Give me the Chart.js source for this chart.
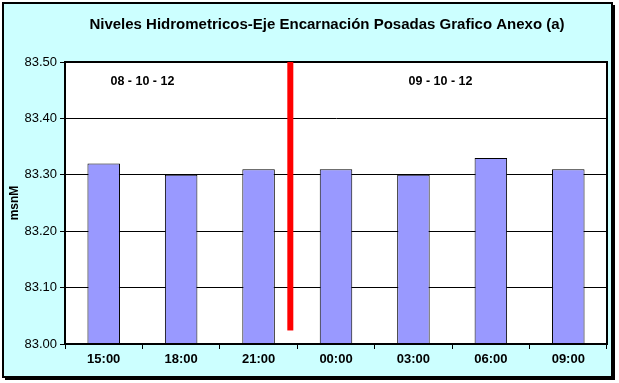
<!DOCTYPE html>
<html>
<head>
<meta charset="utf-8">
<script src="https://cdn.jsdelivr.net/npm/chart.js@4.4.1/dist/chart.umd.min.js"></script>
<style>
html,body{margin:0;padding:0;background:#fff;}
#wrap{width:619px;height:383px;position:relative;}
</style>
</head>
<body>
<div id="wrap"><canvas id="c" width="619" height="383"></canvas></div>
<script>
const titleText = "Niveles Hidrometricos-Eje Encarnación Posadas Grafico Anexo (a)";
const categories = ["15:00", "18:00", "21:00", "00:00", "03:00", "06:00", "09:00"];
const levels = [83.32, 83.30, 83.31, 83.31, 83.30, 83.33, 83.31];
const yTicks = [83.0, 83.1, 83.2, 83.3, 83.4, 83.5];
const dateLabels = ["08 - 10 - 12", "09 - 10 - 12"];
const dateLabelX = [0.5, 4.35];
const dateLabelY = [83.465, 83.465];
const dividerX = 2.41;
const dividerBottom = 83.024;

const FONT = '"Liberation Sans", Arial, sans-serif';

const framePlugin = {
  id: 'frame',
  beforeDraw(chart) {
    const ctx = chart.ctx;
    ctx.save();
    ctx.fillStyle = '#ffffff';
    ctx.fillRect(0, 0, chart.width, chart.height);
    ctx.fillStyle = '#000000';
    ctx.fillRect(5, 5, 610, 375);
    ctx.fillStyle = '#CCFFFF';
    ctx.fillRect(3, 3, 609, 374);
    ctx.lineWidth = 2;
    ctx.strokeStyle = '#000000';
    ctx.strokeRect(3, 3, 609, 374);
    const a = chart.chartArea;
    ctx.fillStyle = '#ffffff';
    ctx.fillRect(a.left, a.top, a.right - a.left, a.bottom - a.top);
    ctx.fillStyle = '#000000';
    ctx.font = 'bold 15px ' + FONT;
    ctx.textAlign = 'center';
    ctx.textBaseline = 'middle';
    ctx.fillText(titleText, 327, 25);
    ctx.restore();
  },
  afterDatasetsDraw(chart) {
    const ctx = chart.ctx;
    const xs = chart.scales.x, ys = chart.scales.y;
    const a = chart.chartArea;
    ctx.save();
    ctx.strokeStyle = '#000';
    ctx.lineWidth = 2;
    ctx.strokeRect(a.left, a.top, a.right - a.left, a.bottom - a.top);
    const x0 = xs.getPixelForValue(0), x1 = xs.getPixelForValue(1);
    const xp = x0 + (x1 - x0) * dividerX;
    ctx.fillStyle = '#FF0000';
    const yb = ys.getPixelForValue(dividerBottom);
    ctx.fillRect(xp - 3, a.top, 6, yb - a.top);
    ctx.fillStyle = '#000';
    ctx.font = 'bold 12.5px ' + FONT;
    ctx.textAlign = 'center';
    ctx.textBaseline = 'middle';
    dateLabels.forEach((t, i) => {
      const px = x0 + (x1 - x0) * dateLabelX[i];
      ctx.fillText(t, px, ys.getPixelForValue(dateLabelY[i]));
    });
    ctx.restore();
  }
};

new Chart(document.getElementById('c'), {
  type: 'bar',
  data: {
    labels: categories,
    datasets: [{
      data: levels,
      backgroundColor: '#9999FF',
      borderColor: '#000000',
      borderWidth: 1,
      categoryPercentage: 1,
      barPercentage: 0.42
    }]
  },
  options: {
    responsive: false,
    animation: false,
    layout: { padding: { top: 62, right: 12, bottom: 0, left: 0 } },
    plugins: { legend: { display: false }, title: { display: false }, tooltip: { enabled: false } },
    scales: {
      x: {
        afterFit(s) { s.height = 39; },
        grid: { offset: true, drawOnChartArea: false, drawTicks: true, tickLength: 5, color: '#000' },
        border: { display: true, color: '#000', width: 2 },
        ticks: { color: '#000', padding: 3, font: { family: FONT, size: 13, weight: 'bold' } }
      },
      y: {
        min: 83.0, max: 83.5,
        afterFit(s) { s.width = 65; },
        afterBuildTicks(s) { s.ticks = yTicks.map(v => ({ value: v })); },
        title: { display: true, text: 'msnM', color: '#000', padding: { top: 7, bottom: 0 }, font: { family: FONT, size: 12, weight: 'bold' } },
        grid: { color: '#000', lineWidth: 1, tickLength: 5, drawTicks: true },
        border: { display: true, color: '#000', width: 2 },
        ticks: { color: '#000', padding: 3, callback: v => Number(v).toFixed(2), font: { family: FONT, size: 13 } }
      }
    }
  },
  plugins: [framePlugin]
});
</script>
</body>
</html>
